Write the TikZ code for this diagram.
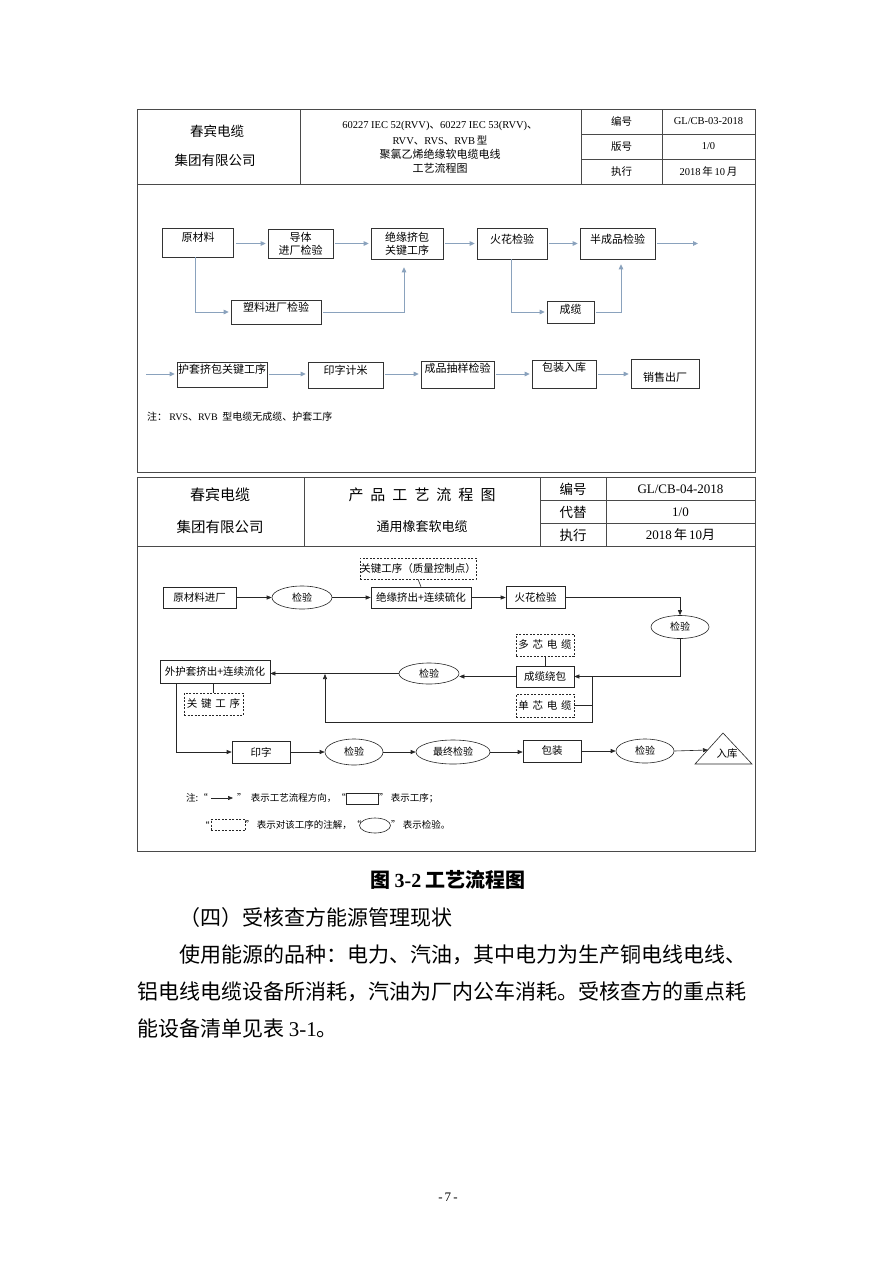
\documentclass[tikz,border=0pt]{standalone}
\usepackage{fontspec}
\setmainfont{Noto Sans CJK SC}
\newfontfamily\tm{Liberation Serif}
\usetikzlibrary{arrows.meta,shapes.geometric}
\newcommand\fs[2]{\fontsize{#1}{#2}\selectfont}
\newcommand\sgap{\hspace{0.35em}}
\definecolor{arrowblue}{HTML}{8AA2BD}
\definecolor{framegray}{HTML}{4A4A4A}
\begin{document}
\begin{tikzpicture}[x=1pt,y=-1pt,
  frame/.style={draw=framegray, line width=0.8pt},
  tbl/.style={draw=framegray, line width=0.7pt},
  txt/.style={inner sep=0pt},
  fbox/.style={draw=black!80, line width=0.6pt, inner sep=0pt, align=center, font=\fs{11}{13}},
  farrow/.style={draw=arrowblue, line width=0.9pt, -{Triangle[length=5pt,width=4.5pt]}, shorten <=2pt, shorten >=2pt},
  bbox/.style={draw=black!85, line width=0.6pt, inner sep=0pt, font=\fs{10.5}{12}},
  dbox/.style={bbox, dash pattern=on 2pt off 1.5pt},
  ell/.style={ellipse, draw=black!85, line width=0.6pt, inner sep=0pt, font=\fs{10}{12}},
  barrow/.style={draw=black!85, line width=0.6pt, -{Triangle[length=5pt,width=4pt]}},
  bline/.style={draw=black!85, line width=0.6pt},
]
\useasboundingbox[fill=white] (0,0) rectangle (893,1263);

% ---------------- first table ----------------
\draw[frame] (137,109) rectangle (755,472);
\draw[tbl] (137,184) -- (755,184);
\draw[tbl] (300,109) -- (300,184);
\draw[tbl] (581,109) -- (581,184);
\draw[tbl] (662,109) -- (662,184);
\draw[tbl] (581,134) -- (755,134);
\draw[tbl] (581,159) -- (755,159);

\node[txt, font=\fs{13.5}{14}] (hc1) at (217,131) {春宾电缆};
\node[txt, font=\fs{13.5}{14}] (hc2) at (215,160) {集团有限公司};
\node[txt, font=\fs{10.5}{12}] (ht1) at (440,126) {{\tm 60227 IEC 52(RVV)}、{\tm 60227 IEC 53(RVV)}、};
\node[txt, font=\fs{10.5}{12}] (ht2) at (440,140) {{\tm RVV}、{\tm RVS}、{\tm RVB}\,型};
\node[txt, font=\fs{11}{12}] (ht3) at (440,154) {聚氯乙烯绝缘软电缆电线};
\node[txt, font=\fs{11}{12}] (ht4) at (440,168) {工艺流程图};
\node[txt, font=\fs{10.5}{12}] (hr1) at (621.5,121.5) {编号};
\node[txt, font=\fs{10.5}{12}] (hr2) at (621.5,146.5) {版号};
\node[txt, font=\fs{10.5}{12}] (hr3) at (621.5,171.5) {执行};
\node[txt, font=\fs{10.5}{12}\tm] (hv1) at (708.5,121.5) {GL/CB-03-2018};
\node[txt, font=\fs{10.5}{12}\tm] (hv2) at (708.5,146.5) {1/0};
\node[txt, font=\fs{10.5}{12}] (hv3) at (708.5,171.5) {{\tm 2018}\,年\,{\tm 10}\,月};

% ---------------- first flow ----------------
\node[fbox, minimum width=71, minimum height=29, text height=9pt, text depth=11.6pt] (t1) at (198,242.5) {原材料};
\node[fbox, minimum width=65, minimum height=29] (t2) at (300.5,243.5) {导体\\进厂检验};
\node[fbox, minimum width=72, minimum height=31] (t3) at (407,243.5) {绝缘挤包\\关键工序};
\node[fbox, minimum width=70, minimum height=31, text height=9pt, text depth=9.6pt] (t4) at (512,243.5) {火花检验};
\node[fbox, minimum width=75, minimum height=31, text height=9pt, text depth=9.6pt] (t5) at (617.5,243.5) {半成品检验};
\coordinate (t5out) at (700,243.5);
\node[fbox, minimum width=90, minimum height=24, text height=9pt, text depth=10.6pt] (t6) at (276,312) {塑料进厂检验};
\node[fbox, minimum width=47, minimum height=22, text height=9pt, text depth=5.6pt] (t7) at (570.5,312) {成缆};

\draw[farrow] (t1.east |- t2.west) -- (t2.west);
\draw[farrow] (t2.east) -- (t2.east -| t3.west);
\draw[farrow] (t3.east) -- (t3.east -| t4.west);
\draw[farrow] (t4.east) -- (t4.east -| t5.west);
\draw[farrow] (t5.east) -- (t5out);
\draw[farrow, shorten <=0pt] ([xshift=-3pt]t1.south) |- (t6.west);
\draw[farrow, shorten >=8pt] (t6.east) -| ([xshift=-3pt]t3.south);
\draw[farrow, shorten <=0pt] ([xshift=-1pt]t4.south) |- (t7.west);
\draw[farrow, shorten >=5pt] (t7.east) -| ([xshift=3.5pt]t5.south);

\coordinate (s0) at (146,374);
\node[fbox, minimum width=90, minimum height=25, text height=9pt, text depth=10.6pt] (s1) at (222,374.5) {护套挤包关键工序};
\node[fbox, minimum width=75, minimum height=26, text height=9pt, text depth=10.6pt] (s2) at (345.5,375) {印字计米};
\node[fbox, minimum width=73, minimum height=27, text height=9pt, text depth=12.6pt] (s3) at (457.5,374.5) {成品抽样检验};
\node[fbox, minimum width=64, minimum height=28, text height=9pt, text depth=14.6pt] (s4) at (564,374) {包装入库};
\node[fbox, minimum width=68, minimum height=29, text height=17pt, text depth=0.6pt] (s5) at (665,373.5) {销售出厂};
\draw[farrow, shorten <=0pt] (s0) -- (s0 -| s1.west);
\draw[farrow] (s1.east |- s0) -- (s0 -| s2.west);
\draw[farrow] (s2.east |- s0) -- (s0 -| s3.west);
\draw[farrow] (s3.east |- s0) -- (s0 -| s4.west);
\draw[farrow] (s4.east |- s0) -- (s0 -| s5.west);

\node[txt, anchor=west, font=\fs{10}{12}] (note1) at (147,417) {注：\ {\tm RVS}、{\tm RVB}\ \ 型电缆无成缆、护套工序};

% ---------------- second table ----------------
\draw[frame] (137,477) rectangle (755,851);
\draw[tbl] (137,546) -- (755,546);
\draw[tbl] (304,477) -- (304,546);
\draw[tbl] (540,477) -- (540,546);
\draw[tbl] (606,477) -- (606,546);
\draw[tbl] (540,500) -- (755,500);
\draw[tbl] (540,523) -- (755,523);

\node[txt, font=\fs{15}{16}] (gc1) at (220,495) {春宾电缆};
\node[txt, font=\fs{14.5}{16}] (gc2) at (220,527) {集团有限公司};
\node[txt, font=\fs{15}{16}] (gt1) at (422,495) {产\hspace{7pt}品\hspace{7pt}工\hspace{7pt}艺\hspace{7pt}流\hspace{7pt}程\hspace{7pt}图};
\node[txt, font=\fs{13}{14}] (gt2) at (422,527) {通用橡套软电缆};
\node[txt, font=\fs{13.5}{14}] (gr1) at (573,489) {编号};
\node[txt, font=\fs{13.5}{14}] (gr2) at (573,512) {代替};
\node[txt, font=\fs{13.5}{14}] (gr3) at (573,535) {执行};
\node[txt, font=\fs{13}{14}\tm] (gv1) at (680.5,489) {GL/CB-04-2018};
\node[txt, font=\fs{13}{14}\tm] (gv2) at (680.5,512) {1/0};
\node[txt, font=\fs{13}{14}] (gv3) at (680.5,535) {{\tm 2018}\,年\,{\tm 10}月};

% ---------------- second flow ----------------
\node[dbox, minimum width=116, minimum height=21] (bn1) at (418,568.5) {关键工序（质量控制点）};
\node[bbox, minimum width=73, minimum height=21] (b1) at (199.5,597.5) {原材料进厂};
\node[ell, minimum width=60, minimum height=23] (e1) at (302,597.5) {检验};
\node[bbox, minimum width=100, minimum height=21] (b2) at (421,597.5) {绝缘挤出+连续硫化};
\node[bbox, minimum width=59, minimum height=22] (b3) at (535.5,597.5) {火花检验};
\node[ell, minimum width=58, minimum height=23] (e2) at (680,627) {检验};
\node[dbox, minimum width=58, minimum height=22] (bn2) at (545,645) {多\sgap 芯\sgap 电\sgap 缆};
\node[bbox, minimum width=58, minimum height=21] (b4) at (545,676.5) {成缆绕包};
\node[dbox, minimum width=58, minimum height=23] (bn3) at (545,705.5) {单\sgap 芯\sgap 电\sgap 缆};
\node[ell, minimum width=60, minimum height=21] (e3) at (429,673.5) {检验};
\node[bbox, minimum width=110, minimum height=23] (b5) at (215,672) {外护套挤出+连续流化};
\node[dbox, minimum width=59, minimum height=22] (bn4) at (213.5,704) {关\sgap 键\sgap 工\sgap 序};
\node[bbox, minimum width=58, minimum height=22] (b6) at (261,752) {印字};
\node[ell, minimum width=58, minimum height=26] (e4) at (354,752) {检验};
\node[ell, minimum width=74, minimum height=24] (e5) at (453,752) {最终检验};
\node[bbox, minimum width=58, minimum height=22] (b7) at (552,751) {包装};
\node[ell, minimum width=58, minimum height=24] (e6) at (645,751) {检验};
\draw[bline] (723,733) -- (695,764) -- (752,764) -- cycle;
\node[txt, font=\fs{10.5}{12}] (rk) at (727,754) {入库};
\coordinate (triL) at (708,750);

\draw[barrow] (b1.east) -- (e1.west);
\draw[barrow] (e1.east) -- (b2.west);
\draw[barrow] (b2.east) -- (b3.west);
\draw[bline] (bn1.south) -- (b2.north);
\draw[barrow] (b3.east) -| (e2.north);
\draw[barrow] (e2.south) |- (b4.east);
\draw[bline] (bn2.south) -- (b4.north);
\coordinate (jr) at (592,676.5);
\coordinate (jb) at (592,722);
\coordinate (jl) at (325,722);
\coordinate (jt) at (325,674);
\draw[bline] (jr) -- (jb) -- (jl);
\draw[barrow] (jl) -- (jt);
\draw[bline] (bn3.east) -- (bn3.east -| jr);
\draw[barrow] (b4.west) -- (b4.west -| e3.east);
\draw[barrow] (e3.west) -- (e3.west -| b5.east);
\draw[bline] (bn4.north) -- (bn4.north |- b5.south);
\draw[barrow] ([xshift=17pt]b5.south west) |- (b6.west);
\draw[barrow] (b6.east) -- (e4.west);
\draw[barrow] (e4.east) -- (e5.west);
\draw[barrow] (e5.east) -- (e5.east -| b7.west);
\draw[barrow] (b7.east) -- (e6.west);
\draw[barrow] (e6.east) -- (triL);

% legend
\node[txt, anchor=west, font=\fs{9.5}{11}] (lg1) at (186,798) {注:“};
\coordinate (la1) at (211,798);
\coordinate (la2) at (233,798);
\draw[barrow] (la1) -- (la2);
\node[txt, anchor=west, font=\fs{9.5}{11}] (lg2) at (237,798) {”\ \ 表示工艺流程方向，“};
\node[bbox, minimum width=32, minimum height=11] (lgb) at (362,799) {};
\node[txt, anchor=west, font=\fs{9.5}{11}] (lg3) at (379,798) {”\ 表示工序；};
\node[txt, anchor=west, font=\fs{9.5}{11}] (lg4) at (200,825) {“};
\node[dbox, minimum width=34, minimum height=11] (lgd) at (228,825) {};
\node[txt, anchor=west, font=\fs{9.5}{11}] (lg5) at (245,825) {”\ 表示对该工序的注解，“};
\node[ell, minimum width=31, minimum height=15] (lge) at (375,825.5) {};
\node[txt, anchor=west, font=\fs{9.5}{11}] (lg6) at (391,825) {”\ 表示检验。};

% ---------------- text below ----------------
\node[txt, font=\fs{20}{22}\bfseries] (cap) at (448,880) {图\ {\tm\bfseries 3-2}\ 工艺流程图};
\node[txt, anchor=west, font=\fs{21}{24}] (p1) at (179,918) {（四）受核查方能源管理现状};
\node[txt, anchor=west, font=\fs{21}{24}] (p2) at (179,955) {使用能源的品种：电力、汽油，其中电力为生产铜电线电线、};
\node[txt, anchor=west, font=\fs{21}{24}] (p3) at (137,992) {铝电线电缆设备所消耗，汽油为厂内公车消耗。受核查方的重点耗};
\node[txt, anchor=west, font=\fs{21}{24}] (p4) at (137,1029) {能设备清单见表\ {\tm 3-1}。};
\node[txt, font=\fs{13}{14}\tm] (pg) at (448,1197) {-\,7\,-};
\end{tikzpicture}
\end{document}
